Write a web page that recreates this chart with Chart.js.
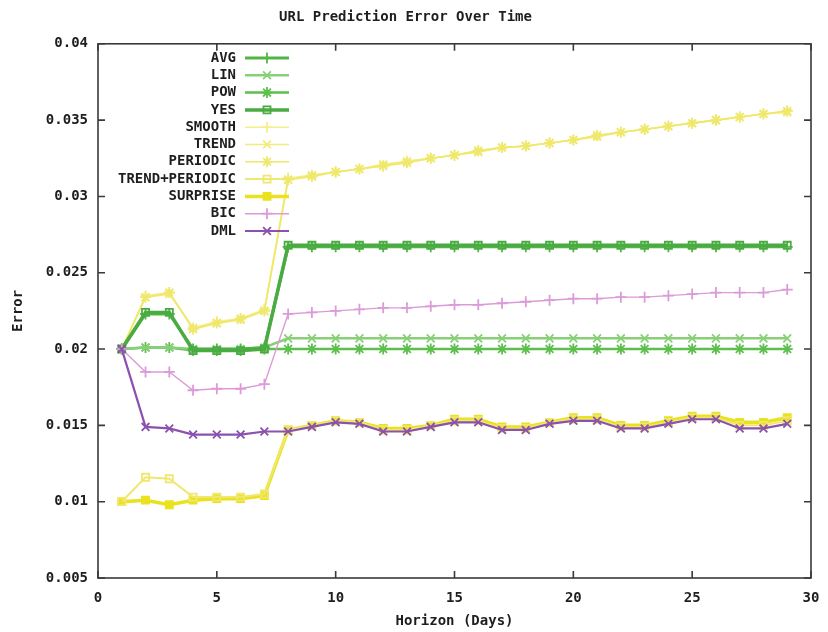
<!DOCTYPE html>
<html>
<head>
<meta charset="utf-8">
<title>URL Prediction Error Over Time</title>
<script src="https://cdn.jsdelivr.net/npm/chart.js@4.4.1/dist/chart.umd.min.js"></script>
<style>
  html, body { margin: 0; padding: 0; background: #fff; }
  #chart { display: block; }
</style>
</head>
<body>
<canvas id="chart" width="828" height="632"></canvas>
<script>
// horizon in days
const days = [1, 2, 3, 4, 5, 6, 7, 8, 9, 10, 11, 12, 13, 14, 15, 16, 17, 18, 19, 20, 21, 22, 23, 24, 25, 26, 27, 28, 29];

const avg = [0.0200, 0.0223, 0.0223, 0.0200, 0.0200, 0.0200, 0.0201,
  0.0267, 0.0267, 0.0267, 0.0267, 0.0267, 0.0267, 0.0267, 0.0267, 0.0267, 0.0267, 0.0267,
  0.0267, 0.0267, 0.0267, 0.0267, 0.0267, 0.0267, 0.0267, 0.0267, 0.0267, 0.0267, 0.0267];
const lin = [0.0200, 0.0201, 0.0201, 0.0200, 0.0200, 0.0200, 0.0201,
  0.0207, 0.0207, 0.0207, 0.0207, 0.0207, 0.0207, 0.0207, 0.0207, 0.0207, 0.0207, 0.0207,
  0.0207, 0.0207, 0.0207, 0.0207, 0.0207, 0.0207, 0.0207, 0.0207, 0.0207, 0.0207, 0.0207];
const pow = [0.0200, 0.0201, 0.0201, 0.0199, 0.0199, 0.0199, 0.0200,
  0.0200, 0.0200, 0.0200, 0.0200, 0.0200, 0.0200, 0.0200, 0.0200, 0.0200, 0.0200, 0.0200,
  0.0200, 0.0200, 0.0200, 0.0200, 0.0200, 0.0200, 0.0200, 0.0200, 0.0200, 0.0200, 0.0200];
const yes = [0.0200, 0.0224, 0.0224, 0.0199, 0.0199, 0.0199, 0.0200,
  0.0268, 0.0268, 0.0268, 0.0268, 0.0268, 0.0268, 0.0268, 0.0268, 0.0268, 0.0268, 0.0268,
  0.0268, 0.0268, 0.0268, 0.0268, 0.0268, 0.0268, 0.0268, 0.0268, 0.0268, 0.0268, 0.0268];
const smooth = [0.0200, 0.0235, 0.0237, 0.0214, 0.0218, 0.0220, 0.0226,
  0.0312, 0.0314, 0.0316, 0.0318, 0.0320, 0.0323, 0.0325, 0.0327, 0.0330, 0.0332, 0.0333,
  0.0335, 0.0337, 0.0340, 0.0342, 0.0344, 0.0346, 0.0348, 0.0350, 0.0352, 0.0354, 0.0356];
const trend = [0.0200, 0.0234, 0.0236, 0.0214, 0.0217, 0.0219, 0.0225,
  0.0311, 0.0314, 0.0316, 0.0318, 0.0321, 0.0323, 0.0325, 0.0327, 0.0329, 0.0332, 0.0333,
  0.0335, 0.0337, 0.0339, 0.0342, 0.0344, 0.0346, 0.0348, 0.0350, 0.0352, 0.0354, 0.0355];
const periodic = [0.0200, 0.0234, 0.0237, 0.0213, 0.0217, 0.0220, 0.0225,
  0.0311, 0.0313, 0.0316, 0.0318, 0.0320, 0.0322, 0.0325, 0.0327, 0.0330, 0.0332, 0.0333,
  0.0335, 0.0337, 0.0340, 0.0342, 0.0344, 0.0346, 0.0348, 0.0350, 0.0352, 0.0354, 0.0356];
const trendPeriodic = [0.0100, 0.0116, 0.0115, 0.0103, 0.0103, 0.0103, 0.0105,
  0.0147, 0.0150, 0.0153, 0.0152, 0.0147, 0.0147, 0.0150, 0.0153, 0.0153, 0.0148, 0.0148,
  0.0152, 0.0154, 0.0154, 0.0149, 0.0149, 0.0152, 0.0155, 0.0155, 0.0150, 0.0150, 0.0153];
const surprise = [0.0100, 0.0101, 0.0098, 0.0101, 0.0102, 0.0102, 0.0104,
  0.0147, 0.0150, 0.0153, 0.0152, 0.0148, 0.0148, 0.0150, 0.0154, 0.0154, 0.0149, 0.0149,
  0.0152, 0.0155, 0.0155, 0.0150, 0.0150, 0.0153, 0.0156, 0.0156, 0.0152, 0.0152, 0.0155];
const bic = [0.0200, 0.0185, 0.0185, 0.0173, 0.0174, 0.0174, 0.0177,
  0.0223, 0.0224, 0.0225, 0.0226, 0.0227, 0.0227, 0.0228, 0.0229, 0.0229, 0.0230, 0.0231,
  0.0232, 0.0233, 0.0233, 0.0234, 0.0234, 0.0235, 0.0236, 0.0237, 0.0237, 0.0237, 0.0239];
const dml = [0.0200, 0.0149, 0.0148, 0.0144, 0.0144, 0.0144, 0.0146,
  0.0146, 0.0149, 0.0152, 0.0151, 0.0146, 0.0146, 0.0149, 0.0152, 0.0152, 0.0147, 0.0147,
  0.0151, 0.0153, 0.0153, 0.0148, 0.0148, 0.0151, 0.0154, 0.0154, 0.0148, 0.0148, 0.0151];

const seriesNames = ['AVG', 'LIN', 'POW', 'YES', 'SMOOTH', 'TREND', 'PERIODIC',
  'TREND+PERIODIC', 'SURPRISE', 'BIC', 'DML'];
const seriesValues = [avg, lin, pow, yes, smooth, trend, periodic, trendPeriodic, surprise, bic, dml];

const xTicks = [0, 5, 10, 15, 20, 25, 30];

// look of each series (gnuplot-ish point types)
const styles = [
  { color: '#52b548', width: 3, point: 'cross', fill: false, order: 3 },
  { color: '#88d078', width: 2.5, point: 'crossRot', fill: false, order: 4 },
  { color: '#5cbf4c', width: 2.5, point: 'star', fill: false, order: 5 },
  { color: '#4aab42', width: 3.5, point: 'rect', fill: false, order: 2 },
  { color: '#f4f08c', width: 1.6, point: 'cross', fill: false, order: 8 },
  { color: '#f1ec7c', width: 1.6, point: 'crossRot', fill: false, order: 7 },
  { color: '#efe86c', width: 1.6, point: 'star', fill: false, order: 6 },
  { color: '#f0e76e', width: 2, point: 'rect', fill: false, order: 9 },
  { color: '#eae21e', width: 3.5, point: 'rect', fill: true, order: 10 },
  { color: '#dc9bd8', width: 1.4, point: 'cross', fill: false, order: 1 },
  { color: '#8a52ae', width: 2.2, point: 'crossRot', fill: false, order: 0 }
];

const font = 'DejaVu Sans Mono';
const textColor = '#1e1e1e';

const datasets = seriesNames.map((name, i) => ({
  label: name,
  data: days.map((d, j) => ({ x: d, y: seriesValues[i][j] })),
  borderColor: styles[i].color,
  backgroundColor: styles[i].fill ? styles[i].color : 'rgba(0,0,0,0)',
  pointBorderColor: styles[i].color,
  pointBackgroundColor: styles[i].fill ? styles[i].color : 'rgba(0,0,0,0)',
  borderWidth: styles[i].width,
  pointBorderWidth: 1.8,
  pointStyle: styles[i].point,
  pointRadius: styles[i].point === 'rect' ? 5 : 5.5,
  tension: 0,
  order: styles[i].order
}));

// plot frame with inward ticks on all four sides
const framePlugin = {
  id: 'frame',
  afterDatasetsDraw(chart) {
    const { ctx, chartArea: a, scales } = chart;
    ctx.save();
    ctx.strokeStyle = '#3a3a3a';
    ctx.lineWidth = 1.6;
    ctx.strokeRect(a.left, a.top, a.right - a.left, a.bottom - a.top);
    ctx.beginPath();
    scales.x.ticks.forEach(t => {
      const px = scales.x.getPixelForValue(t.value);
      ctx.moveTo(px, a.bottom); ctx.lineTo(px, a.bottom - 7);
      ctx.moveTo(px, a.top); ctx.lineTo(px, a.top + 7);
    });
    scales.y.ticks.forEach(t => {
      const py = scales.y.getPixelForValue(t.value);
      ctx.moveTo(a.left, py); ctx.lineTo(a.left + 7, py);
      ctx.moveTo(a.right, py); ctx.lineTo(a.right - 7, py);
    });
    ctx.stroke();
    ctx.restore();
  }
};

// key in the top left corner: label right aligned, sample line after it
const keyPlugin = {
  id: 'key',
  afterDatasetsDraw(chart) {
    const { ctx } = chart;
    ctx.save();
    ctx.font = 'bold 14px "' + font + '"';
    ctx.textAlign = 'right';
    ctx.textBaseline = 'middle';
    chart.data.datasets.forEach((ds, i) => {
      const y = 58 + i * 17.3;
      ctx.fillStyle = textColor;
      ctx.fillText(ds.label, 236, y);
      ctx.strokeStyle = ds.borderColor;
      ctx.lineWidth = ds.borderWidth;
      ctx.beginPath();
      ctx.moveTo(245, y);
      ctx.lineTo(289, y);
      ctx.stroke();
      if (Chart.helpers && Chart.helpers.drawPoint) {
        ctx.fillStyle = ds.pointBackgroundColor;
        ctx.lineWidth = ds.pointBorderWidth;
        Chart.helpers.drawPoint(ctx, {
          pointStyle: ds.pointStyle, radius: ds.pointRadius, rotation: 0,
          borderWidth: ds.pointBorderWidth
        }, 267, y);
      }
    });
    ctx.restore();
  }
};

new Chart(document.getElementById('chart'), {
  type: 'line',
  data: { datasets },
  options: {
    responsive: false,
    animation: false,
    layout: { padding: { left: 0, right: 17, top: 0, bottom: 0 } },
    plugins: {
      legend: { display: false },
      tooltip: { enabled: false },
      title: {
        display: true,
        text: 'URL Prediction Error Over Time',
        color: textColor,
        font: { family: font, size: 14, weight: 'bold' },
        padding: { top: 9, bottom: 18 }
      }
    },
    scales: {
      x: {
        type: 'linear',
        min: 0,
        max: 30,
        afterFit(scale) { scale.height = 54; scale.paddingRight = 0; },
        afterBuildTicks(scale) { scale.ticks = xTicks.map(v => ({ value: v })); },
        grid: { display: false, drawTicks: false },
        border: { display: false },
        ticks: {
          padding: 12,
          color: textColor,
          font: { family: font, size: 14, weight: 'bold' }
        },
        title: {
          display: true,
          text: 'Horizon (Days)',
          color: textColor,
          font: { family: font, size: 14, weight: 'bold' },
          padding: { top: 0, bottom: 2 }
        }
      },
      y: {
        min: 0.005,
        max: 0.04,
        afterFit(scale) { scale.width = 98; },
        grid: { display: false, drawTicks: false },
        border: { display: false },
        ticks: {
          stepSize: 0.005,
          padding: 10,
          color: textColor,
          font: { family: font, size: 14, weight: 'bold' },
          callback: v => String(Number(v.toFixed(3)))
        },
        title: {
          display: true,
          text: 'Error',
          color: textColor,
          font: { family: font, size: 14, weight: 'bold' },
          padding: { top: 10, bottom: 0 }
        }
      }
    }
  },
  plugins: [framePlugin, keyPlugin]
});
</script>
</body>
</html>
